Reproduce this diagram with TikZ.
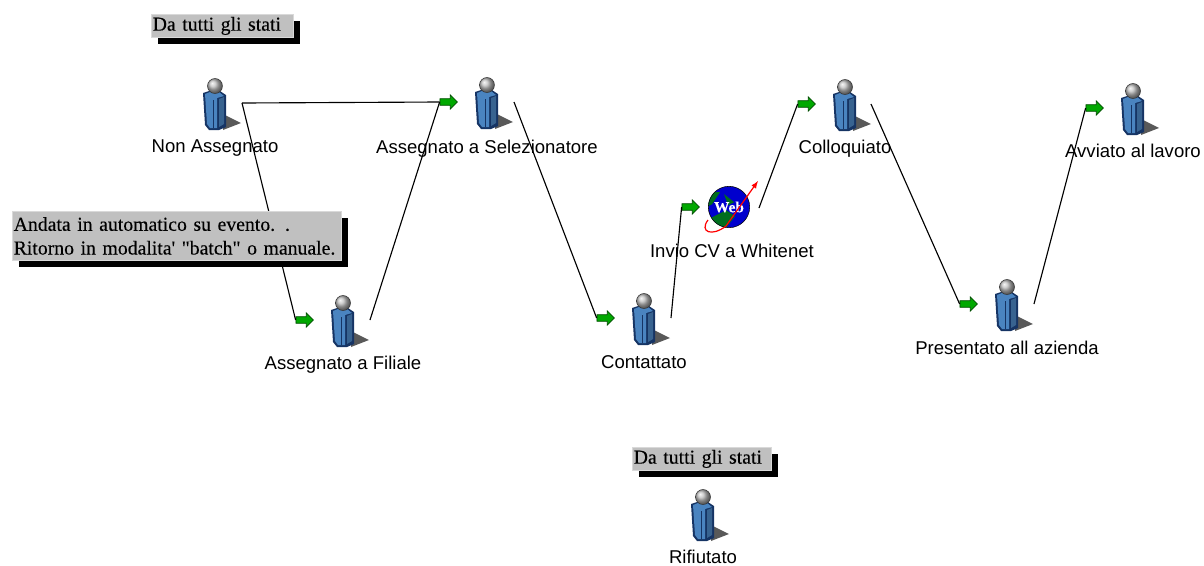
\documentclass[tikz,border=0pt]{standalone}
\usepackage{fontspec}
\setmainfont{Liberation Sans}
\newfontfamily\notefont[FakeBold=0.25]{Liberation Serif}
\usetikzlibrary{positioning,shadows,shapes.arrows}
\definecolor{bodyblue}{RGB}{74,132,192}
\definecolor{bodydark}{RGB}{22,52,100}
\definecolor{noteback}{RGB}{192,192,192}
\definecolor{arrowgreen}{RGB}{0,168,0}
\definecolor{globeblue}{RGB}{0,0,205}
\definecolor{globegreen}{RGB}{0,110,30}
\tikzset{
    persona/.style={
        minimum size=42pt, inner sep=0pt,
        path picture={
            \begin{scope}[shift={(path picture bounding box.center)}]
                \fill[black!65] (8,11) -- (26,20) -- (8,27) -- cycle;
                \fill[bodydark] (-12,-10) -- (-6,-12) -- (5,-12) -- (11,-8) -- (11,24)
                    -- (4,27) -- (-6,27) -- (-10,22) -- cycle;
                \fill[bodyblue] (-10,-9) -- (-5,-11) -- (4,-11) -- (9,-7) -- (2,-5)
                    -- (2,25) -- (-5,25) -- (-8,21) -- cycle;
                \fill[bodyblue!75!black] (4,-4) -- (9,-6) -- (9,21) -- (4,24) -- cycle;
                \draw[bodydark,line width=.6pt] (-2,-3) -- (-2,25);
                \shade[ball color=black!25,draw=black!80] (0,-17) circle (7.5);
            \end{scope}
        }},
    freccia/.style={
        single arrow, draw=black!70!green, fill=arrowgreen, line width=.5pt,
        minimum height=13pt, minimum width=10.5pt, inner xsep=0pt, inner ysep=2.2pt,
        single arrow head extend=2.8pt, single arrow head indent=0pt},
    etichetta/.style={font=\fontsize{13.9pt}{16pt}\selectfont, text=black, inner sep=0pt},
    nota/.style={
        fill=noteback, draw=black!15, line width=.6pt, inner xsep=1pt, inner ysep=0pt,
        align=left, font=\notefont\fontsize{14.8pt}{17.8pt}\selectfont,
        general shadow={fill=black, shadow xshift=5pt, shadow yshift=-4.8pt}},
    web/.style={
        circle, draw=black, fill=globeblue, minimum size=31pt, inner sep=0pt,
        text=white, font=\notefont\bfseries\fontsize{11.5pt}{11.5pt}\selectfont,
        path picture={
            \begin{scope}[shift={(path picture bounding box.center)}]
                \fill[globegreen] (-21,-12) -- (-8,-21) -- (6,-20) -- (-2,-8) -- (-13,-2) -- (-21,2) -- cycle;
                \fill[globegreen] (-4,6) -- (12,-2) -- (21,4) -- (10,18) -- (0,21) -- cycle;
                \fill[globegreen] (10,-18) -- (20,-10) -- (14,-7) -- cycle;
            \end{scope}
        }},
    connettore/.style={draw=black, line width=.85pt},
    node distance=30pt,
    on grid
}
\begin{document}
\begin{tikzpicture}[x=.75pt, y=-.75pt]
    \useasboundingbox (0,0) rectangle (1204,565);

    \node[persona] (non_assegnato) at (215,103) {};
    \node[persona] (selezionatore) at (487,102) {};
    \node[persona] (filiale) at (343,320) {};
    \node[persona] (contattato) at (644,318) {};
    \node[persona] (colloquiato) at (845,104) {};
    \node[persona] (presentato) at (1007,304) {};
    \node[persona] (avviato) at (1133,108) {};
    \node[persona] (rifiutato) at (703,514) {};
    \node[web] (invio_cv) at (729,207) {Web};
    \coordinate (invio_cv_out) at (759,208);
    \coordinate (non_assegnato_out) at (242,103);
    \coordinate (selezionatore_out) at (514,102);
    \coordinate (filiale_out) at (370,320);
    \coordinate (contattato_out) at (671,318);
    \coordinate (colloquiato_out) at (871,104);
    \coordinate (presentato_out) at (1034,304);

    \node[freccia] (in_selezionatore) [left=of selezionatore] {};
    \node[freccia] (in_filiale) [left=of filiale] {};
    \node[freccia] (in_contattato) [left=of contattato] {};
    \node[freccia] (in_invio_cv) [left=of invio_cv] {};
    \node[freccia] (in_colloquiato) [left=of colloquiato] {};
    \node[freccia] (in_presentato) [left=of presentato] {};
    \node[freccia] (in_avviato) [left=of avviato] {};

    \path[connettore]
    (non_assegnato_out) edge (in_selezionatore.west)
                        edge (in_filiale.west)
    (filiale_out) edge (in_selezionatore.west)
    (selezionatore_out) edge (in_contattato.west)
    (contattato_out) edge (in_invio_cv.west)
    (invio_cv_out) edge (in_colloquiato.west)
    (colloquiato_out) edge (in_presentato.west)
    (presentato_out) edge (in_avviato.west)
    ;

    \draw[red,line width=.9pt,-latex] (708,220) .. controls (699,232) and (712,237) .. (726,226)
        -- (758,181);

    \node[etichetta] (lab_non_assegnato) [below=33.5pt of non_assegnato] {Non Assegnato};
    \node[etichetta] (lab_selezionatore) [below=34.8pt of selezionatore] {Assegnato a Selezionatore};
    \node[etichetta] (lab_filiale) [below=33.3pt of filiale] {Assegnato a Filiale};
    \node[etichetta] (lab_contattato) [below=33pt of contattato] {Contattato};
    \node[etichetta] (lab_colloquiato) [below=33.3pt of colloquiato] {Colloquiato};
    \node[etichetta] (lab_presentato) [below=33pt of presentato] {Presentato all azienda};
    \node[etichetta] (lab_avviato) [below=32.2pt of avviato] {Avviato al lavoro};
    \node[etichetta] (lab_rifiutato) [below=32pt of rifiutato] {Rifiutato};
    \node[etichetta,xshift=2.2pt] (lab_invio_cv) [below=33pt of invio_cv] {Invio CV a Whitenet};

    \node[nota,anchor=north west,text width=104.5pt,minimum height=17.3pt] (nota_stati_1) at (151,14) {Da tutti gli stati};
    \node[nota,anchor=north west,text width=102pt,minimum height=17.3pt] (nota_stati_2) at (632,447) {Da tutti gli stati};
    \node[nota,anchor=north west,text width=245pt,minimum height=36.8pt] (nota_evento) at (12,211) {Andata in automatico su evento. .\\Ritorno in modalita' "batch" o manuale.};
\end{tikzpicture}
\end{document}
